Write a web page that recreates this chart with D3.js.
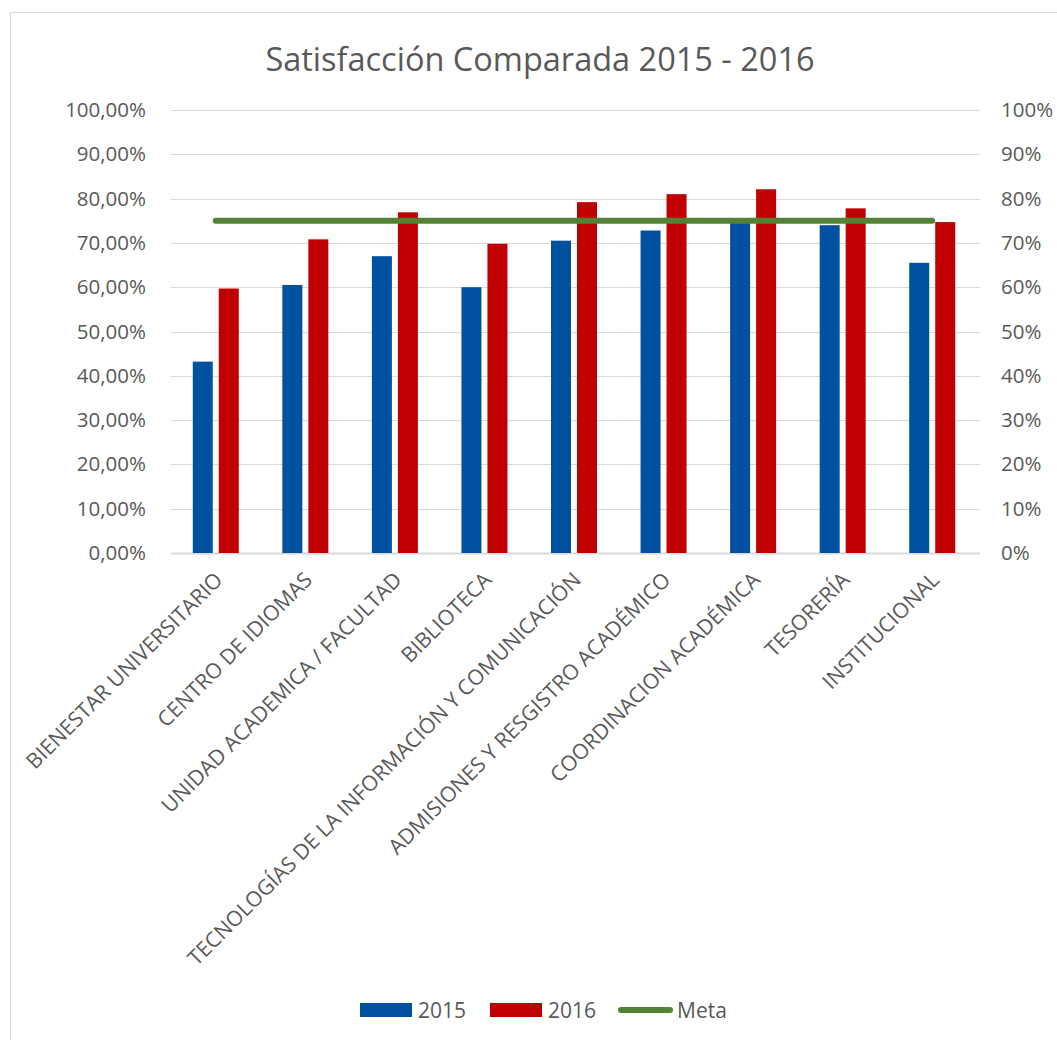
<!DOCTYPE html>
<html>
<head>
<meta charset="utf-8">
<script src="https://cdn.jsdelivr.net/npm/d3@7"></script>
<style>
  html, body { margin: 0; padding: 0; background: #fff; }
  svg { display: block; font-family: "Open Sans", "Noto Sans", sans-serif; }
</style>
</head>
<body>
<svg id="chart" width="1057" height="1040"></svg>
<script>
// Areas surveyed
const categories = [
  "BIENESTAR UNIVERSITARIO",
  "CENTRO DE IDIOMAS",
  "UNIDAD ACADEMICA / FACULTAD",
  "BIBLIOTECA",
  "TECNOLOGÍAS DE LA INFORMACIÓN Y COMUNICACIÓN",
  "ADMISIONES Y RESGISTRO ACADÉMICO",
  "COORDINACION ACADÉMICA",
  "TESORERÍA",
  "INSTITUCIONAL"
];
// Satisfaction (%) per area and year
const values2015 = [43.2, 60.5, 67.0, 60.0, 70.5, 72.8, 75.5, 74.0, 65.5];
const values2016 = [59.7, 70.8, 76.9, 69.8, 79.2, 81.0, 82.1, 77.8, 74.7];
// Target line (%)
const meta = [75, 75, 75, 75, 75, 75, 75, 75, 75];
const leftTicks = [0, 10, 20, 30, 40, 50, 60, 70, 80, 90, 100];
const rightTicks = [0, 10, 20, 30, 40, 50, 60, 70, 80, 90, 100];
const seriesNames = ["2015", "2016", "Meta"];

const colors = { y2015: "#0051A0", y2016: "#C00000", meta: "#548235", text: "#595959", grid: "#D9D9D9" };

const svg = d3.select("#chart");
const margin = { left: 171, right: 977, top: 110, bottom: 553 };

// Chart area border
svg.append("path")
  .attr("d", "M10.5,1040 V12.5 H1057")
  .attr("fill", "none").attr("stroke", colors.grid).attr("stroke-width", 1);

// Title
svg.append("text")
  .attr("x", 540).attr("y", 71)
  .attr("text-anchor", "middle")
  .attr("fill", colors.text)
  .style("font-size", "32.5px")
  .text("Satisfacción Comparada 2015 - 2016");

const x = d3.scaleBand().domain(categories).range([margin.left, margin.right]).paddingInner(0).paddingOuter(0);
const y = d3.scaleLinear().domain([0, 100]).range([margin.bottom, margin.top]);

// Gridlines
svg.append("g").selectAll("line").data(leftTicks).join("line")
  .attr("x1", margin.left).attr("x2", margin.right + 3)
  .attr("y1", d => Math.round(y(d)) + 0.5).attr("y2", d => Math.round(y(d)) + 0.5)
  .attr("stroke", colors.grid).attr("stroke-width", d => d === 0 ? 2 : 1);

// Left axis
const leftAxis = d3.axisLeft(y).tickValues(leftTicks).tickSize(0).tickPadding(0)
  .tickFormat(d => d.toFixed(2).replace(".", ",") + "%");
const gl = svg.append("g").attr("transform", `translate(${margin.left - 25},0)`).call(leftAxis);
gl.select(".domain").remove();
gl.selectAll("text").attr("fill", colors.text).style("font-size", "20.5px").style("font-family", "Open Sans");

// Right axis
const rightAxis = d3.axisRight(y).tickValues(rightTicks).tickSize(0).tickPadding(0)
  .tickFormat(d => d + "%");
const gr = svg.append("g").attr("transform", `translate(${margin.right + 24},0)`).call(rightAxis);
gr.select(".domain").remove();
gr.selectAll("text").attr("fill", colors.text).style("font-size", "20.5px").style("font-family", "Open Sans");

// Bars
const barW = 20, gap = 6;
const cx = d => x(d) + x.bandwidth() / 2;
svg.append("g").selectAll("rect").data(categories).join("rect")
  .attr("x", (d) => cx(d) - gap / 2 - barW)
  .attr("y", (d, i) => y(values2015[i]))
  .attr("width", barW)
  .attr("height", (d, i) => y(0) - y(values2015[i]))
  .attr("fill", colors.y2015);
svg.append("g").selectAll("rect").data(categories).join("rect")
  .attr("x", (d) => cx(d) + gap / 2)
  .attr("y", (d, i) => y(values2016[i]))
  .attr("width", barW)
  .attr("height", (d, i) => y(0) - y(values2016[i]))
  .attr("fill", colors.y2016);

// Target line
const line = d3.line().x((d, i) => cx(categories[i])).y(d => y(d));
svg.append("path").datum(meta)
  .attr("d", line)
  .attr("fill", "none").attr("stroke", colors.meta)
  .attr("stroke-width", 6).attr("stroke-linecap", "round");

// Category labels, rotated
svg.append("g").selectAll("text").data(categories).join("text")
  .attr("transform", d => `translate(${cx(d) + 3},${margin.bottom + 23}) rotate(-45)`)
  .attr("text-anchor", "end")
  .attr("dy", "0.35em")
  .attr("fill", colors.text)
  .style("font-size", "21.2px")
  .text(d => d);

// Legend
const legend = svg.append("g").style("font-size", "21px").attr("fill", colors.text);
legend.append("rect").attr("x", 360).attr("y", 1003).attr("width", 52).attr("height", 14).attr("fill", colors.y2015);
legend.append("text").attr("x", 418).attr("y", 1018).text(seriesNames[0]);
legend.append("rect").attr("x", 490).attr("y", 1003).attr("width", 52).attr("height", 14).attr("fill", colors.y2016);
legend.append("text").attr("x", 548).attr("y", 1018).text(seriesNames[1]);
legend.append("line").attr("x1", 621).attr("x2", 670).attr("y1", 1010).attr("y2", 1010)
  .attr("stroke", colors.meta).attr("stroke-width", 6).attr("stroke-linecap", "round");
legend.append("text").attr("x", 677).attr("y", 1018).text(seriesNames[2]);
</script>
</body>
</html>
